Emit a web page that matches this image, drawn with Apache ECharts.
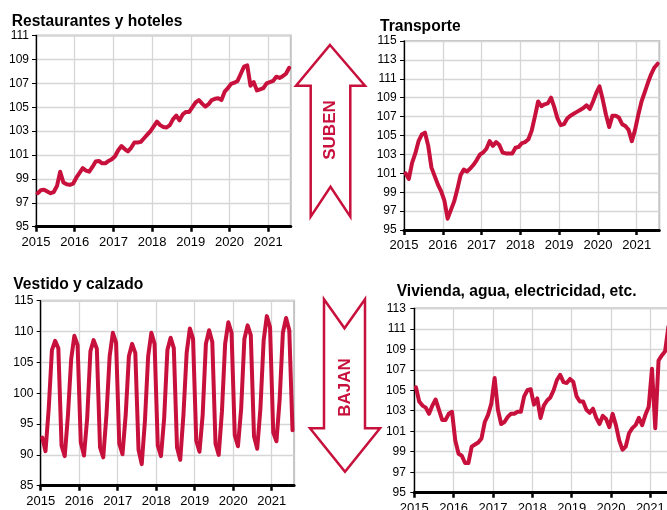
<!DOCTYPE html>
<html><head><meta charset="utf-8">
<script src="https://cdn.jsdelivr.net/npm/echarts@6/dist/echarts.min.js"></script>
<style>html,body{margin:0;padding:0;background:#fff}#c{width:667px;height:510px}</style>
</head><body><div id="c"></div>
<script>
// Monthly series, Jan 2015 .. Jul 2021 (79 months)
const startYear = 2015;
const nMonths = 79;
const yearLabels = [2015, 2016, 2017, 2018, 2019, 2020, 2021];

const titles = ['Restaurantes y hoteles', 'Transporte', 'Vestido y calzado', 'Vivienda, agua, electricidad, etc.'];
const arrowTexts = ['SUBEN', 'BAJAN'];

const restaurantes = [
  97.8, 98.05, 98.1, 97.95, 97.8, 97.9, 98.4, 99.6, 98.7, 98.55, 98.5, 98.6,
  99.1, 99.5, 99.9, 99.7, 99.6, 100.0, 100.45, 100.5, 100.3, 100.3, 100.5, 100.65,
  100.9, 101.4, 101.75, 101.5, 101.3, 101.6, 102.05, 102.05, 102.1, 102.4, 102.7, 103.0,
  103.4, 103.8, 103.5, 103.35, 103.3, 103.5, 104.0, 104.3, 103.9, 104.4, 104.6, 104.6,
  105.0, 105.4, 105.6, 105.3, 105.05, 105.25, 105.6, 105.7, 105.75, 105.6, 106.3, 106.6,
  106.95, 107.05, 107.2, 107.8, 108.4, 108.5, 106.8, 107.1, 106.4, 106.5, 106.6, 107.0,
  107.1, 107.2, 107.55, 107.45, 107.6, 107.8, 108.3
];
const transporte = [
  101.0, 100.4, 102.1, 103.1, 104.4, 105.1, 105.3, 103.9, 101.6, 100.7, 99.8, 99.1,
  98.1, 96.2, 97.1, 98.0, 99.3, 100.8, 101.4, 101.2, 101.5, 101.9, 102.4, 103.0,
  103.2, 103.6, 104.4, 103.9, 104.3, 104.0, 103.2, 103.1, 103.1, 103.1, 103.7, 103.8,
  104.2, 104.3, 104.6, 105.5, 107.0, 108.6, 108.1, 108.3, 108.4, 109.0, 108.0, 106.8,
  106.1, 106.2, 106.8, 107.1, 107.3, 107.5, 107.7, 107.9, 108.2, 107.8, 108.6, 109.5,
  110.2, 108.8, 107.2, 105.9, 107.1, 107.1, 106.9, 106.2, 106.0, 105.6, 104.4, 105.6,
  107.2, 108.6, 109.6, 110.6, 111.5, 112.2, 112.6
];
const vestido = [
  92.8, 90.6, 97.5, 107.0, 108.5, 107.3, 91.5, 89.8, 96.5, 105.5, 109.3, 107.8,
  92.0, 89.9, 96.0, 106.8, 108.6, 107.2, 91.2, 89.6, 96.5, 106.0, 109.8, 108.2,
  91.8, 90.1, 96.5, 106.0, 108.0, 106.5, 90.8, 88.5, 95.5, 106.0, 109.8, 108.0,
  91.5, 89.8, 96.0, 107.0, 109.0, 107.3, 91.2, 89.2, 96.5, 106.5, 110.5, 108.8,
  92.3, 90.5, 96.5, 108.0, 110.2, 108.3, 91.8, 90.0, 97.0, 108.0, 111.5, 109.8,
  93.2, 91.4, 97.5, 108.8, 111.0, 109.4, 93.0, 91.0, 97.5, 108.5, 112.5, 110.7,
  93.6, 92.2, 99.0, 109.8, 112.2, 110.2, 94.0
];
const vivienda = [
  105.3, 103.9, 103.5, 103.3, 102.7, 103.5, 104.1, 103.1, 102.1, 102.1, 102.7, 102.9,
  100.1, 98.8, 98.6, 97.9, 97.9, 99.5, 99.7, 99.9, 100.3, 101.9, 102.6, 103.7,
  106.2, 103.1, 101.7, 101.9, 102.4, 102.7, 102.7, 102.9, 102.9, 104.4, 105.0, 105.1,
  103.6, 104.2, 102.3, 103.5, 104.0, 104.3, 105.0, 106.0, 106.5, 105.8, 105.7, 106.1,
  105.8, 104.4, 103.9, 103.9, 103.1, 102.8, 103.2, 102.3, 101.7, 102.5, 102.2, 101.4,
  102.7, 101.6, 100.1, 99.2, 99.5, 100.8, 101.3, 101.6, 102.3, 101.6, 102.6, 103.4,
  107.1, 101.3, 107.9, 108.4, 108.8, 111.2, 111.8
];

// y-axis ranges (min, max, step)
const yRanges = [[95, 111, 2], [95, 115, 2], [85, 115, 5], [95, 113, 2]];
const seriesList = [restaurantes, transporte, vestido, vivienda];

const RED = '#c8103c';
const FONT = '"Liberation Sans", Arial, sans-serif';
const xMax = startYear + nMonths / 12;

// layout (pixels): left, top, width, height
const layout = [
  {left: 36, top: 35.5, width: 254.8, height: 191.2, lm: 7},
  {left: 404, top: 41, width: 255.3, height: 189, lm: 7.3},
  {left: 40.7, top: 300.7, width: 253.4, height: 185, lm: 7.4},
  {left: 414.3, top: 308.3, width: 259, height: 184.4, lm: 8.4}
];
const titlePos = [[11.7, 22], [380, 26.2], [13.3, 285], [396.7, 292]];

const grids = [], xAxes = [], yAxes = [], series = [];
layout.forEach((L, k) => {
  const [ymin, ymax, step] = yRanges[k];
  grids.push({left: L.left, top: L.top, width: L.width, height: L.height, show: true,
    borderColor: '#c4c4c4', borderWidth: 2, backgroundColor: 'transparent',
    containLabel: false, outerBoundsMode: 'none'});
  xAxes.push({
    type: 'value', gridIndex: k, min: startYear, max: xMax, interval: 1,
    axisLine: {show: true, onZero: false, lineStyle: {color: '#000', width: 3}},
    axisTick: {show: true, length: 5, customValues: yearLabels, lineStyle: {color: '#000', width: 2.5}},
    axisLabel: {fontSize: 13, fontFamily: FONT, color: '#000', margin: 9,
      customValues: yearLabels,
      formatter: v => (Math.abs(v - Math.round(v)) < 1e-6 ? String(Math.round(v)) : '')},
    splitLine: {show: true, lineStyle: {color: '#d6d6d6', width: 1.3}}
  });
  yAxes.push({
    type: 'value', gridIndex: k, min: 0, max: ymax - ymin, interval: step,
    axisLine: {show: true, lineStyle: {color: '#000', width: 1.3}},
    axisTick: {show: true, length: 4, lineStyle: {color: '#000', width: 1}},
    axisLabel: {fontSize: 12, fontFamily: FONT, color: '#000', margin: L.lm,
      formatter: v => String(Math.round(v + ymin))},
    splitLine: {show: true, lineStyle: {color: '#d6d6d6', width: 1.3}}
  });
  series.push({
    type: 'line', xAxisIndex: k, yAxisIndex: k, symbol: 'none', showSymbol: false,
    clip: true, animation: false,
    lineStyle: {color: RED, width: 4, cap: 'round', join: 'round'},
    data: seriesList[k].map((v, i) => [startYear + (i + 0.5) / 12, v - ymin])
  });
});

const graphic = [];
titles.forEach((t, k) => {
  graphic.push({type: 'text', x: titlePos[k][0], y: titlePos[k][1], z: 10,
    style: {text: t, fontSize: 15.6, fontWeight: 'bold', fontFamily: FONT, fill: '#000',
      align: 'left', verticalAlign: 'middle'}});
});
// up arrow
graphic.push({type: 'polygon', z: 5, shape: {points: [
  [330, 45], [365, 85.7], [350.3, 85.7], [350.3, 216.7], [330.5, 186.7], [310.7, 216.7], [310.7, 85.7], [296, 85.7]
]}, style: {fill: '#fff', stroke: RED, lineWidth: 2.5, lineJoin: 'miter'}});
graphic.push({type: 'text', x: 330.5, y: 130, rotation: Math.PI / 2, z: 6,
  style: {text: arrowTexts[0], fontSize: 17, fontWeight: 'bold', fontFamily: FONT, fill: RED,
    align: 'center', verticalAlign: 'middle'}});
// down arrow
graphic.push({type: 'polygon', z: 5, shape: {points: [
  [324, 299.3], [344.5, 328.3], [365, 299.3], [365, 428.3], [380, 428.3], [345, 471.7], [310, 428.3], [324, 428.3]
]}, style: {fill: '#fff', stroke: RED, lineWidth: 2.5, lineJoin: 'miter'}});
graphic.push({type: 'text', x: 345.5, y: 387.5, rotation: Math.PI / 2, z: 6,
  style: {text: arrowTexts[1], fontSize: 17, fontWeight: 'bold', fontFamily: FONT, fill: RED,
    align: 'center', verticalAlign: 'middle'}});

const chart = echarts.init(document.getElementById('c'), null, {renderer: 'canvas'});
chart.setOption({
  animation: false,
  backgroundColor: '#fff',
  grid: grids, xAxis: xAxes, yAxis: yAxes, series: series, graphic: graphic
});
</script></body></html>
